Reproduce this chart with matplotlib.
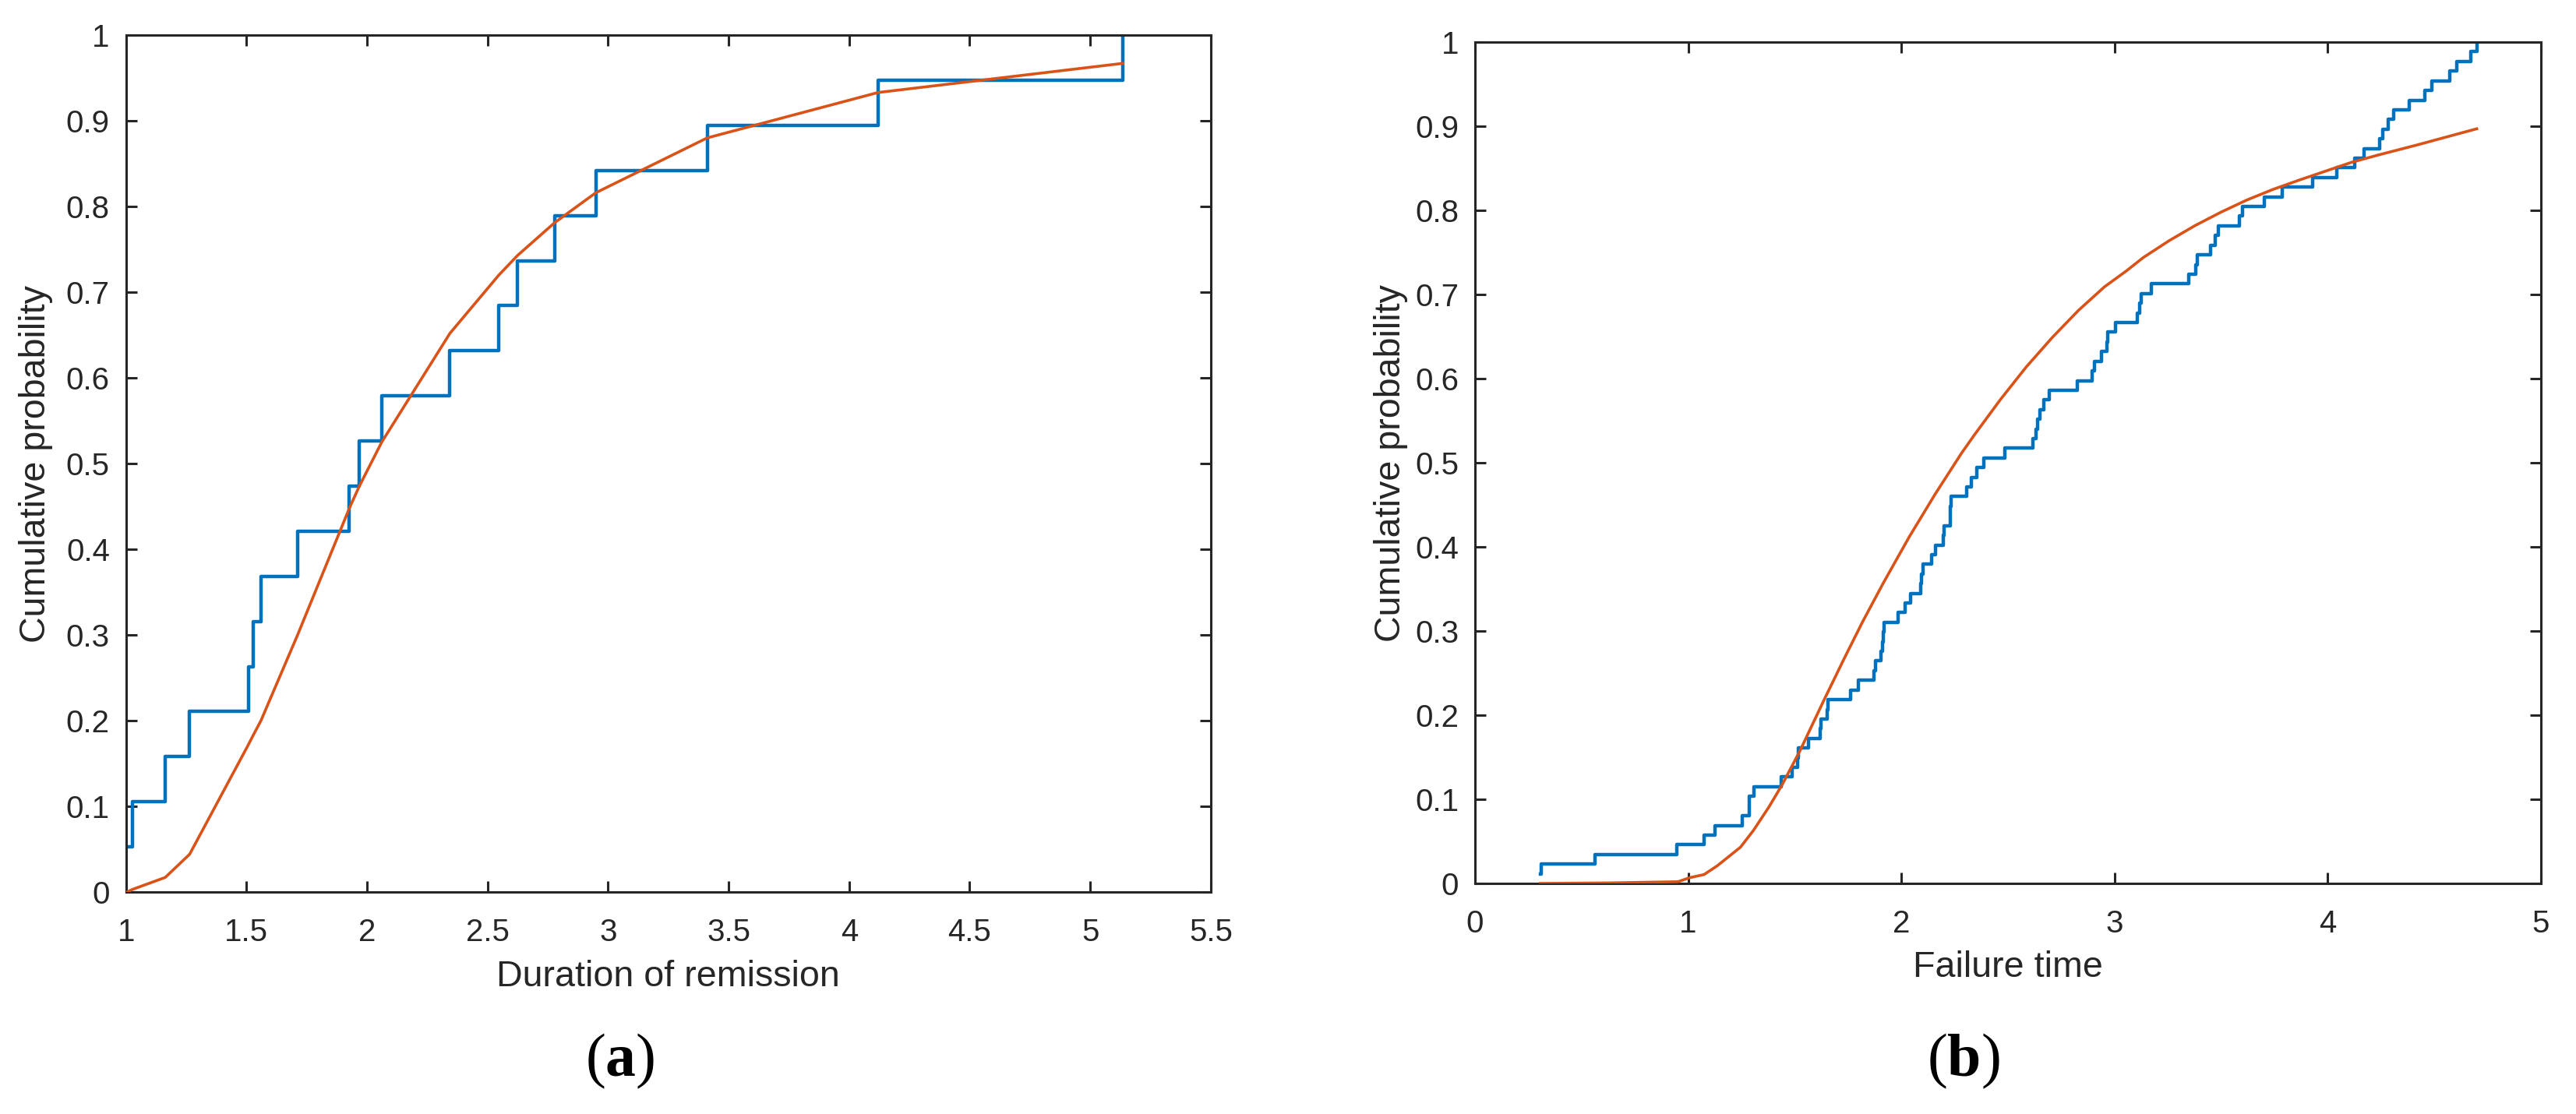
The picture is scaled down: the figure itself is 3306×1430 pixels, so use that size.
import numpy as np
import matplotlib
matplotlib.use("Agg")
import matplotlib.pyplot as plt
from matplotlib.ticker import FixedLocator, FixedFormatter

plt.rcParams['font.family'] = ['Liberation Sans', 'DejaVu Sans']
plt.rcParams['mathtext.fontset'] = 'custom'
plt.rcParams['mathtext.rm'] = 'Liberation Serif'
plt.rcParams['mathtext.bf'] = 'Liberation Serif:bold'

# (a) duration of remission: sorted samples and fitted cdf at each sample
remission_times = [1.005, 1.027, 1.163, 1.264, 1.508, 1.528, 1.560, 1.712, 1.927, 1.967,
                   2.061, 2.344, 2.547, 2.625, 2.778, 2.949, 3.411, 4.120, 5.135]
remission_fit = [0.000, 0.003, 0.017, 0.044, 0.172, 0.183, 0.200, 0.300, 0.448, 0.473,
                 0.525, 0.652, 0.720, 0.743, 0.781, 0.816, 0.880, 0.933, 0.967]

# (b) failure times (87 units)
failure_times = [0.306, 0.312, 0.561, 0.947, 1.074, 1.127, 1.252, 1.285, 1.287, 1.308,
                 1.437, 1.486, 1.513, 1.515, 1.565, 1.618, 1.622, 1.653, 1.657, 1.760,
                 1.798, 1.872, 1.880, 1.903, 1.913, 1.915, 1.917, 1.986, 2.017, 2.042,
                 2.090, 2.095, 2.101, 2.141, 2.159, 2.196, 2.201, 2.228, 2.230, 2.232,
                 2.305, 2.327, 2.352, 2.388, 2.486, 2.618, 2.631, 2.638, 2.649, 2.669,
                 2.692, 2.827, 2.894, 2.905, 2.940, 2.964, 2.966, 3.004, 3.106, 3.119,
                 3.125, 3.171, 3.348, 3.382, 3.388, 3.449, 3.471, 3.485, 3.586, 3.600,
                 3.704, 3.785, 3.928, 4.041, 4.128, 4.171, 4.244, 4.257, 4.284, 4.309,
                 4.381, 4.454, 4.488, 4.573, 4.606, 4.671, 4.699]

# fitted cdf for (b)
failure_fit_x = [0.306, 0.635, 0.952, 1.007, 1.074, 1.135, 1.245, 1.306, 1.379, 1.440,
                 1.523, 1.637, 1.733, 1.818, 1.915, 2.037, 2.159, 2.220, 2.281, 2.342,
                 2.464, 2.586, 2.708, 2.830, 2.952, 3.055, 3.135, 3.256, 3.378, 3.500,
                 3.622, 3.744, 3.866, 3.988, 4.110, 4.232, 4.354, 4.415, 4.699]
failure_fit_y = [0.000, 0.0006, 0.002, 0.0068, 0.0105, 0.0207, 0.043, 0.063, 0.091, 0.117,
                 0.157, 0.218, 0.268, 0.311, 0.357, 0.412, 0.463, 0.487, 0.511, 0.533,
                 0.575, 0.614, 0.649, 0.681, 0.709, 0.728, 0.744, 0.764, 0.782, 0.798,
                 0.8125, 0.825, 0.836, 0.8465, 0.857, 0.8655, 0.8735, 0.8775, 0.897]

blue = '#0072BD'
orange = '#D95319'
dark = '#262626'


def ecdf(samples):
    xs = np.sort(np.asarray(samples))
    ys = np.arange(1, len(xs) + 1) / len(xs)
    return xs, ys


def style_axes(ax, xlim, xticks, xlabel):
    ax.set_xlim(*xlim)
    ax.set_ylim(0, 1)
    yticks = np.round(np.arange(0, 1.01, 0.1), 1)
    ax.xaxis.set_major_locator(FixedLocator(xticks))
    ax.xaxis.set_major_formatter(FixedFormatter(['%g' % t for t in xticks]))
    ax.yaxis.set_major_locator(FixedLocator(yticks))
    ax.yaxis.set_major_formatter(FixedFormatter(['%g' % t for t in yticks]))
    ax.tick_params(direction='in', top=True, right=True, length=5.2, width=1.1,
                   colors=dark, labelsize=14.5)
    ax.tick_params(axis='x', pad=12)
    ax.tick_params(axis='y', pad=7.5)
    for s in ax.spines.values():
        s.set_color(dark)
        s.set_linewidth(1.1)
    ax.set_xlabel(xlabel, fontsize=16.8, color=dark)
    ax.set_ylabel('Cumulative probability', fontsize=16.8, color=dark)
    ax.xaxis.label.set_va('center')
    ax.yaxis.label.set_va('center')


fig = plt.figure(figsize=(16.53, 7.15), dpi=200)

# left panel
ax1 = fig.add_axes([0.0489, 0.1993, 0.4211, 0.7692])
xs, ys = ecdf(remission_times)
ax1.plot(xs, ys, drawstyle='steps-post', color=blue, lw=1.6, zorder=2)
ax1.plot(remission_times, remission_fit, color=orange, lw=1.3, zorder=3)
style_axes(ax1, (1, 5.5), [1, 1.5, 2, 2.5, 3, 3.5, 4, 4.5, 5, 5.5], 'Duration of remission')
ax1.xaxis.set_label_coords(0.5, -0.099)
ax1.yaxis.set_label_coords(-0.083, 0.5)

# right panel
ax2 = fig.add_axes([0.5726, 0.2070, 0.4138, 0.7552])
xs, ys = ecdf(failure_times)
ax2.plot(xs, ys, drawstyle='steps-post', color=blue, lw=1.6, zorder=2)
ax2.plot(failure_fit_x, failure_fit_y, color=orange, lw=1.3, zorder=3)
style_axes(ax2, (0, 5), [0, 1, 2, 3, 4, 5], 'Failure time')
ax2.xaxis.set_label_coords(0.5, -0.1)
ax2.yaxis.set_label_coords(-0.079, 0.5)

fig.text(0.2408, 0.0476, r'$\mathrm{(}\mathbf{a}\mathrm{)}$', ha='center', va='center',
         fontsize=28, color='black')
fig.text(0.7622, 0.0476, r'$\mathrm{(}\mathbf{b}\mathrm{)}$', ha='center', va='center',
         fontsize=28, color='black')

fig.savefig('out.png', dpi=200)
